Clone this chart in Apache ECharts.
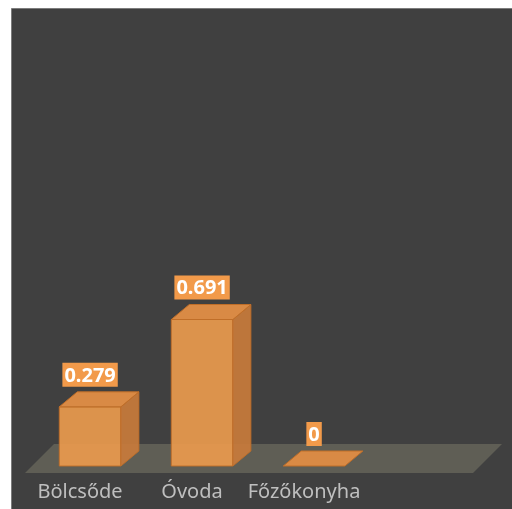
<!DOCTYPE html>
<html>
<head>
<meta charset="utf-8">
<script src="https://cdn.jsdelivr.net/npm/echarts@6/dist/echarts.min.js"></script>
<style>
  html, body { margin: 0; padding: 0; background: #fff; }
  #chart { width: 512px; height: 509px; }
</style>
</head>
<body>
<div id="chart"></div>
<script>
// categories (4th slot is empty floor space, as in the original)
const categories = ['Bölcsőde', 'Óvoda', 'Főzőkonyha', '']
const values = [0.279, 0.691, 0]

const chart = echarts.init(document.getElementById('chart'))

// 3D box: front face, right side, top
function renderBar(params, api) {
  const idx = api.value(0)
  const v = api.value(1)
  const base = api.coord([idx, 0])
  const top = api.coord([idx, v])
  const band = api.size([1, 0])[0]
  const w = band * 0.55
  const cx = base[0] + band * 0.09
  const x0 = cx - w / 2
  const x1 = cx + w / 2
  const y0 = base[1]
  const y1 = top[1]
  const dx = 18
  const dy = -15
  const stroke = '#C06E28'
  const children = []
  if (y0 - y1 > 0.5) {
    children.push({
      type: 'polygon',
      shape: { points: [[x0, y0], [x1, y0], [x1, y1], [x0, y1]] },
      style: { fill: '#E89A4D', stroke: stroke, lineWidth: 1, opacity: 0.93 }
    })
    children.push({
      type: 'polygon',
      shape: { points: [[x1, y0], [x1 + dx, y0 + dy], [x1 + dx, y1 + dy], [x1, y1]] },
      style: { fill: '#C77B3B', stroke: stroke, lineWidth: 1, opacity: 0.93 }
    })
  }
  children.push({
    type: 'polygon',
    shape: { points: [[x0, y1], [x1, y1], [x1 + dx, y1 + dy], [x0 + dx, y1 + dy]] },
    style: { fill: '#D98A45', stroke: stroke, lineWidth: 1 }
  })
  children.push({
    type: 'text',
    style: {
      text: String(v),
      x: cx,
      y: y1 + dy - 5,
      align: 'center',
      verticalAlign: 'bottom',
      fill: '#fff',
      font: 'bold 20px "Noto Sans"',
      backgroundColor: '#F29A4A',
      padding: [3, 2, 1, 2]
    }
  })
  return { type: 'group', children: children }
}

// floor plane under the bars
function renderFloor(params, api) {
  const p = api.coord([0, 0])
  const band = api.size([1, 0])[0]
  const left = p[0] - band / 2 + 1
  const right = left + band * categories.length
  const yf = p[1] + 7
  const yb = p[1] - 22
  const d = 29
  return {
    type: 'polygon',
    shape: { points: [[left, yf], [right, yf], [right + d, yb], [left + d, yb]] },
    style: { fill: '#5F5E55' }
  }
}

chart.setOption({
  backgroundColor: '#fff',
  graphic: [
    {
      type: 'rect',
      z: -10,
      shape: { x: 11.5, y: 8.5, width: 520, height: 520 },
      style: { fill: '#404040', stroke: '#7c7c7c', lineWidth: 1 }
    }
  ],
  grid: { left: 24, right: 40, top: 42, bottom: 43 },
  xAxis: {
    type: 'category',
    data: categories,
    axisLine: { show: false },
    axisTick: { show: false },
    axisLabel: {
      color: '#BFBFBF',
      fontSize: 20,
      fontFamily: 'Noto Sans',
      margin: 16,
      interval: 0
    }
  },
  yAxis: {
    type: 'value',
    min: 0,
    max: 2,
    show: false,
    splitLine: { show: false }
  },
  series: [
    {
      type: 'custom',
      renderItem: renderFloor,
      data: [[0]],
      z: 1,
      silent: true
    },
    {
      type: 'custom',
      renderItem: renderBar,
      data: values.map((v, i) => [i, v]),
      z: 2
    }
  ]
})
</script>
</body>
</html>
